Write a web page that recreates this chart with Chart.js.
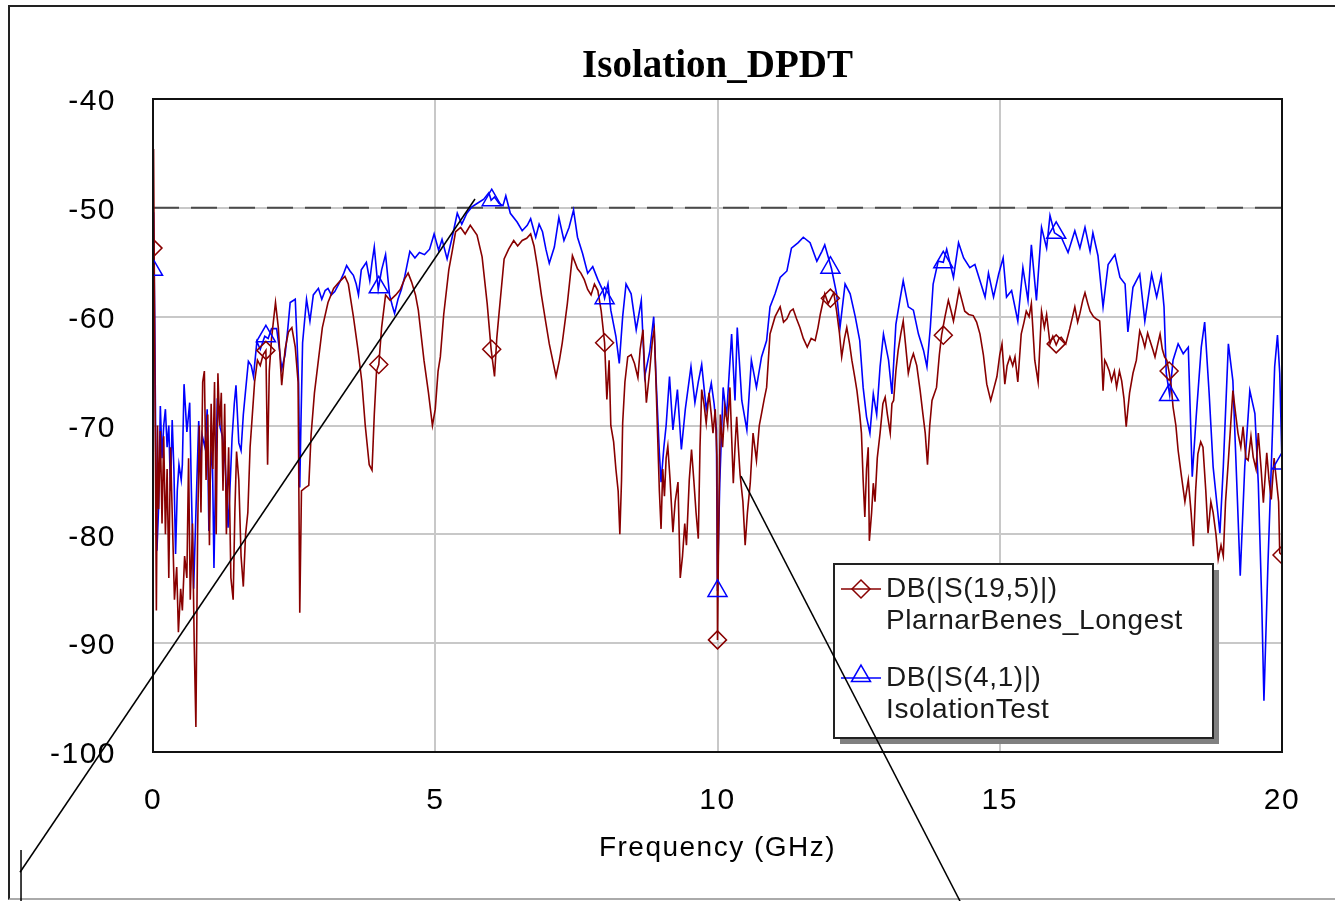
<!DOCTYPE html>
<html>
<head>
<meta charset="utf-8">
<title>Isolation_DPDT</title>
<script src="https://cdn.jsdelivr.net/npm/chart.js"></script>
<style>
  html, body { margin: 0; padding: 0; background: #fff; }
  #wrap { position: relative; width: 1335px; height: 901px; overflow: hidden; }
  #frame { position: absolute; left: 8px; top: 5px; width: 1400px; height: 895px; box-sizing: border-box;
           border-left: 2px solid #222; border-top: 2px solid #222; border-bottom: 2px solid #aaa; }
  #chart { position: absolute; left: 0; top: 0; }
</style>
</head>
<body>
<div id="wrap">
  <div id="frame"></div>
  <canvas id="chart" width="1335" height="901"></canvas>
</div>
<script>
// ---- data (frequency in GHz, level in dB) ----
const redFreq = [
  0, 0.01, 0.03, 0.06, 0.08, 0.1, 0.13, 0.16, 0.19, 0.22,
  0.25, 0.28, 0.31, 0.34, 0.38, 0.42, 0.45, 0.49, 0.52, 0.56,
  0.6, 0.63, 0.66, 0.7, 0.73, 0.76, 0.79, 0.82, 0.85, 0.88,
  0.91, 0.94, 0.97, 1.0, 1.03, 1.06, 1.09, 1.12, 1.15, 1.18,
  1.21, 1.24, 1.27, 1.3, 1.34, 1.38, 1.42, 1.45, 1.48, 1.52,
  1.56, 1.6, 1.64, 1.68, 1.72, 1.76, 1.8, 1.85, 1.9, 1.95,
  2.0, 2.03, 2.06, 2.1, 2.17, 2.22, 2.28, 2.34, 2.4, 2.46,
  2.52, 2.57, 2.6, 2.63, 2.7, 2.76, 2.8, 2.86, 2.93, 3.0,
  3.1, 3.2, 3.3, 3.4, 3.46, 3.55, 3.63, 3.7, 3.76, 3.83,
  3.88, 3.92, 3.96, 4.0, 4.05, 4.12, 4.2, 4.3, 4.38, 4.46,
  4.52, 4.58, 4.65, 4.7, 4.8, 4.88, 4.95, 5.0, 5.05, 5.09,
  5.15, 5.24, 5.3, 5.36, 5.45, 5.53, 5.62, 5.74, 5.83, 5.92,
  5.99, 6.05, 6.09, 6.13, 6.22, 6.3, 6.39, 6.46, 6.54, 6.62,
  6.69, 6.75, 6.81, 6.88, 6.96, 7.02, 7.08, 7.14, 7.2, 7.25,
  7.34, 7.43, 7.52, 7.58, 7.64, 7.7, 7.76, 7.82, 7.88, 7.94,
  8.0, 8.04, 8.08, 8.11, 8.16, 8.2, 8.24, 8.27, 8.3, 8.32,
  8.36, 8.41, 8.47, 8.53, 8.59, 8.63, 8.68, 8.71, 8.74, 8.8,
  8.85, 8.88, 8.91, 8.94, 8.97, 9.0, 9.03, 9.06, 9.09, 9.12,
  9.16, 9.21, 9.25, 9.3, 9.34, 9.38, 9.42, 9.45, 9.5, 9.54,
  9.58, 9.62, 9.66, 9.69, 9.72, 9.76, 9.8, 9.85, 9.89, 9.92,
  9.96, 9.99, 10.0, 10.02, 10.05, 10.09, 10.13, 10.18, 10.22, 10.25,
  10.28, 10.31, 10.34, 10.37, 10.4, 10.45, 10.49, 10.53, 10.58, 10.63,
  10.69, 10.74, 10.78, 10.83, 10.87, 10.93, 11.02, 11.07, 11.11, 11.17,
  11.23, 11.29, 11.34, 11.4, 11.46, 11.52, 11.59, 11.66, 11.73, 11.78,
  11.82, 11.9, 11.96, 12.01, 12.06, 12.11, 12.16, 12.2, 12.25, 12.29,
  12.34, 12.38, 12.43, 12.47, 12.52, 12.55, 12.58, 12.61, 12.64, 12.67,
  12.69, 12.73, 12.76, 12.79, 12.83, 12.88, 12.93, 12.97, 13.01, 13.06,
  13.09, 13.12, 13.16, 13.2, 13.25, 13.29, 13.33, 13.38, 13.43, 13.47,
  13.53, 13.59, 13.64, 13.68, 13.72, 13.76, 13.8, 13.88, 13.93, 13.97,
  14.03, 14.09, 14.14, 14.18, 14.23, 14.28, 14.33, 14.38, 14.45, 14.53,
  14.59, 14.65, 14.71, 14.77, 14.84, 14.9, 14.95, 15.0, 15.04, 15.09,
  15.13, 15.18, 15.23, 15.27, 15.32, 15.38, 15.43, 15.47, 15.52, 15.56,
  15.62, 15.68, 15.74, 15.79, 15.83, 15.89, 15.94, 16.0, 16.05, 16.09,
  16.17, 16.24, 16.29, 16.33, 16.38, 16.42, 16.47, 16.51, 16.56, 16.6,
  16.66, 16.71, 16.77, 16.8, 16.83, 16.86, 16.89, 16.94, 16.98, 17.03,
  17.07, 17.12, 17.16, 17.2, 17.24, 17.27, 17.3, 17.36, 17.42, 17.48,
  17.53, 17.57, 17.62, 17.66, 17.71, 17.75, 17.8, 17.84, 17.88, 17.92,
  17.96, 18.0, 18.04, 18.07, 18.12, 18.16, 18.22, 18.28, 18.34, 18.39,
  18.43, 18.47, 18.51, 18.56, 18.6, 18.65, 18.69, 18.74, 18.78, 18.83,
  18.87, 18.92, 18.96, 19.0, 19.05, 19.09, 19.13, 19.18, 19.22, 19.27,
  19.31, 19.36, 19.4, 19.45, 19.49, 19.54, 19.58, 19.63, 19.67, 19.73,
  19.77, 19.81, 19.86, 19.9, 19.94, 19.96, 20.0
];
const redDb = [
  -53.7, -44.6, -62, -87, -70, -77.7, -70.5, -79, -71, -80,
  -74, -84, -72, -78, -86, -83, -89, -85, -87, -82,
  -84, -73, -86, -79, -90, -97.7, -80, -70, -78, -66,
  -65, -75, -69, -81, -68, -74, -66, -80, -65.2, -70,
  -67, -76, -68, -80, -72, -84, -86, -78, -72.4, -75,
  -82, -84.8, -80, -78, -72, -69, -66, -64, -64.5, -63.5,
  -63.1, -73.6, -65, -62, -58.7, -61, -66.3, -63, -61.4, -61,
  -62.8, -66, -87.2, -76, -75.7, -75.5, -70.9, -67, -64, -61,
  -58.7, -57.4, -56.8, -56.3, -57, -60, -63, -66, -70, -73.6,
  -74.1, -69, -65, -64.4, -61, -58, -58.5, -58, -57.5, -56.5,
  -56, -56.8, -58, -59.4, -64, -67, -70, -68.5, -65, -63.7,
  -59.8, -55.7, -54, -52.2, -51.8, -52.4, -51.6, -52.5, -54.5, -58.8,
  -63, -65.5, -62, -59.7, -54.7, -53.8, -53, -53.5, -53, -52.8,
  -52.4, -53.5, -55.4, -58, -60.6, -62.5, -64, -65.5, -64, -62.4,
  -58.8, -54.4, -55.6, -56, -56.6, -57.5, -58, -57, -57.6, -59.5,
  -62.4, -67.6, -64, -70, -71.5, -74, -76, -80, -75, -69.8,
  -66, -63.7, -63.5, -64.3, -65.6, -63, -61.2, -65, -67.9, -64.9,
  -62, -61.2, -66, -71, -76, -79.5, -74, -76.5, -73, -71.9,
  -75, -79.8, -77, -75.2, -84, -82, -79, -81, -75, -72.2,
  -75, -78, -80.4, -72, -66.7, -68, -69.8, -67, -69, -70.7,
  -68.5, -73, -89.7, -80, -69, -72, -68.3, -70, -66.5, -71,
  -75.3, -72, -69.2, -72, -74.5, -77, -81, -78, -75.3, -70.7,
  -73.2, -70, -68.9, -67.5, -66.5, -61.6, -60, -59.5, -59.1, -60.5,
  -60.2, -59.5, -59.3, -60.2, -61, -62, -62.8, -62, -62.2, -61,
  -59.8, -57.9, -58.8, -58.3, -57.8, -59.5, -61.5, -63.7, -62, -61,
  -62.5, -64, -65.5, -66.8, -69, -70.7, -75, -78.4, -74, -72,
  -80.6, -78, -75.3, -77, -73, -70.7, -68, -67.4, -69, -70.7,
  -68, -67.7, -65, -63.1, -61.5, -60.4, -62.5, -65.2, -64, -63.4,
  -64.5, -66.8, -69, -70.7, -73.6, -70, -67.7, -66.5, -63.5, -61.7,
  -60, -58.5, -59.5, -60.4, -59, -57.5, -58.5, -59.5, -59.8, -59.9,
  -60.5, -61.6, -63.5, -66.2, -67.7, -66.5, -65.5, -63.5, -62.5, -66.2,
  -64.5, -63.7, -64.5, -63.7, -66, -61.6, -60.5, -59.5, -60, -58.8,
  -64, -66, -59.5, -61, -59.8, -62.5, -61.8, -62.6, -62, -61.9,
  -62.5, -61.1, -60, -59.1, -60.5, -59.7, -58.5, -57.8, -58.8, -59.5,
  -60, -60.2, -60.4, -63, -66.8, -64, -64.3, -65, -65.9, -65,
  -66.5, -65, -65.9, -67.5, -70.1, -68.5, -67, -65.2, -64, -61.3,
  -62, -62.8, -61.5, -62.2, -63, -63.7, -62.5, -61.6, -63, -63.7,
  -64, -65.1, -66.5, -68.3, -70, -72.3, -74.7, -77, -75, -78,
  -81.1, -76, -72.6, -71.5, -72, -76, -79.9, -77, -78, -80,
  -82.3, -81, -82, -77, -73.2, -70, -66.8, -69, -70.7, -72,
  -70.1, -73, -73.2, -71, -72.9, -74, -70.7, -74, -77.1, -72.5,
  -75, -76.8, -73, -75, -77, -81.7, -81.9
];

const blueFreq = [
  0, 0.01, 0.03, 0.05, 0.07, 0.1, 0.13, 0.16, 0.19, 0.22,
  0.25, 0.28, 0.31, 0.34, 0.37, 0.4, 0.43, 0.46, 0.5, 0.52,
  0.55, 0.6, 0.65, 0.68, 0.72, 0.76, 0.81, 0.84, 0.87, 0.92,
  0.96, 0.99, 1.02, 1.05, 1.08, 1.11, 1.14, 1.19, 1.23, 1.28,
  1.33, 1.37, 1.4, 1.44, 1.47, 1.52, 1.56, 1.6, 1.64, 1.69,
  1.74, 1.78, 1.84, 1.9, 1.98, 2.04, 2.1, 2.19, 2.24, 2.28,
  2.34, 2.39, 2.43, 2.52, 2.55, 2.58, 2.6, 2.62, 2.65, 2.72,
  2.78, 2.84, 2.93, 2.99, 3.05, 3.1, 3.16, 3.22, 3.31, 3.38,
  3.43, 3.49, 3.55, 3.6, 3.64, 3.69, 3.78, 3.84, 3.88, 3.92,
  3.99, 4.05, 4.12, 4.19, 4.24, 4.28, 4.34, 4.4, 4.46, 4.55,
  4.64, 4.72, 4.81, 4.9, 4.98, 5.06, 5.12, 5.21, 5.3, 5.39,
  5.47, 5.56, 5.65, 5.74, 5.86, 5.95, 5.99, 6.05, 6.13, 6.2,
  6.25, 6.33, 6.45, 6.54, 6.63, 6.69, 6.78, 6.84, 6.9, 6.96,
  7.02, 7.11, 7.19, 7.28, 7.37, 7.45, 7.52, 7.61, 7.7, 7.79,
  7.88, 7.97, 8.0, 8.06, 8.11, 8.2, 8.26, 8.32, 8.38, 8.47,
  8.56, 8.65, 8.71, 8.8, 8.87, 8.91, 8.97, 9.0, 9.05, 9.09,
  9.15, 9.21, 9.29, 9.36, 9.43, 9.53, 9.6, 9.66, 9.72, 9.8,
  9.89, 9.94, 9.98, 10.0, 10.02, 10.04, 10.1, 10.16, 10.25, 10.31,
  10.35, 10.43, 10.52, 10.6, 10.69, 10.78, 10.87, 10.93, 11.02, 11.11,
  11.23, 11.31, 11.43, 11.52, 11.64, 11.76, 11.85, 11.9, 11.96, 12.02,
  12.11, 12.17, 12.26, 12.35, 12.44, 12.52, 12.58, 12.64, 12.7, 12.76,
  12.82, 12.88, 12.94, 13.03, 13.09, 13.16, 13.23, 13.29, 13.38, 13.47,
  13.56, 13.65, 13.71, 13.77, 13.82, 13.91, 14.0, 14.06, 14.18, 14.27,
  14.36, 14.47, 14.56, 14.65, 14.74, 14.8, 14.89, 14.98, 15.06, 15.12,
  15.21, 15.32, 15.41, 15.5, 15.56, 15.65, 15.74, 15.83, 15.89, 15.97,
  16.09, 16.21, 16.33, 16.42, 16.51, 16.6, 16.65, 16.74, 16.83, 16.92,
  17.04, 17.13, 17.22, 17.27, 17.36, 17.48, 17.57, 17.69, 17.78, 17.86,
  17.91, 17.95, 18.01, 18.07, 18.16, 18.25, 18.34, 18.41, 18.48, 18.57,
  18.63, 18.71, 18.78, 18.9, 18.96, 19.05, 19.13, 19.21, 19.26, 19.34,
  19.43, 19.52, 19.58, 19.64, 19.68, 19.75, 19.81, 19.87, 19.92, 19.96,
  20.0
];
const blueDb = [
  -55.7, -50.4, -60, -73, -81.5, -77.4, -68.2, -73, -70, -68.5,
  -72, -70, -76, -69.5, -74, -81.8, -76, -73.6, -75, -73.6,
  -66.2, -70.6, -67.9, -76, -85, -78, -69.6, -74, -70.9, -72,
  -68.5, -79.7, -74, -72, -83.1, -74, -67.5, -70.2, -71, -73.6,
  -79.4, -75, -71.2, -68, -66.3, -71.6, -72.3, -69, -66.8, -64.1,
  -64.5, -65.5, -62.3, -63, -61.8, -62, -61.1, -61.1, -63, -64.8,
  -63.5, -61, -58.7, -58.4, -62, -66.2, -75.7, -70, -62.4, -58.4,
  -60.4, -58, -57.4, -58.4, -57.6, -57.4, -58, -57.7, -56.8, -56,
  -55.3, -55.8, -56.2, -57, -58, -55.7, -55, -56.7, -55, -53.6,
  -57.5, -55.7, -54.3, -58, -59, -59.7, -58.4, -57.5, -56.3, -54,
  -54.6, -54.1, -54.3, -53.8, -52.4, -53.9, -52.9, -54.7, -52.7, -50.5,
  -51.5, -50.5, -49.9, -49.6, -49.2, -48.6, -49.3, -49, -49.6, -49.8,
  -48.9, -50.5, -51.3, -52.1, -51.6, -51, -52.7, -51.5, -52.2, -53.8,
  -55.1, -53.6, -50.9, -53, -51.8, -50.2, -52.7, -54.2, -56, -55.4,
  -56.6, -57.6, -58.3, -57, -59.4, -61.8, -64.3, -60, -57, -57.9,
  -61.2, -58.5, -65.5, -63.2, -60, -65.5, -72.5, -75.2, -72, -70,
  -65.5, -70.4, -66.7, -72.2, -68.5, -64.6, -67.9, -66, -64.4, -68.5,
  -66.1, -68, -70.4, -85.2, -80, -75.3, -66.5, -69.2, -61.6, -67.7,
  -61, -67.7, -70.4, -64, -66.5, -63.7, -62.2, -59.1, -57.9, -56.4,
  -55.8, -53.7, -53.2, -52.7, -53.2, -54.9, -54, -53.4, -54.5, -55.6,
  -57.9, -61, -57, -57.9, -60, -62.2, -66.5, -69.2, -70.7, -67.1,
  -69, -64.6, -61.6, -64, -67.1, -60.7, -58.5, -56.7, -59.1, -59.4,
  -61.6, -63.1, -64.6, -61, -57, -54.9, -55, -53.8, -56.4, -53.2,
  -54.6, -55.5, -55.2, -56.7, -58.2, -56, -58.2, -56.1, -54.6, -58.2,
  -57.6, -60.4, -55.5, -58.5, -53.4, -58.5, -51.8, -53.7, -50.7, -52.3,
  -52.7, -54.1, -52.1, -53.7, -51.8, -54, -52.3, -54.4, -59.1, -55.2,
  -54.3, -56.4, -57, -61.4, -57.3, -56.1, -60.4, -56.1, -58.2, -56.3,
  -59.1, -65.2, -67.2, -64, -62.5, -63.4, -62.8, -74.7, -69.2, -62.8,
  -60.5, -67.1, -73.8, -79.9, -73.8, -62.5, -65.9, -76.8, -83.8, -73.8,
  -66.8, -68.9, -75.3, -86, -95.3, -82.9, -73.8, -64.6, -61.7, -65.2,
  -73.5
];

// marker symbols sit every 2 GHz on each trace
const markerFreq = [0, 2, 4, 6, 8, 10, 12, 14, 16, 18, 20];
const redMarkerDb = [-53.7, -63.1, -64.4, -63, -62.4, -89.7, -58.3, -61.7, -62.5, -65, -81.9];
const blueMarkerDb = [-55.7, -61.8, -57.3, -49.3, -58.3, -85.2, -55.5, -55, -52.3, -67.2, -73.5];

const limitDb = -50;
const xTicks = { min: 0, max: 20, step: 5 };
const yTicks = { min: -100, max: -40, step: 10 };

const redLabel = ['DB(|S(19,5)|)', 'PlarnarBenes_Longest'];
const blueLabel = ['DB(|S(4,1)|)', 'IsolationTest'];

// stray annotation strokes on the screenshot, in axis units
const annotLines = [
  [[-2.356, -111.05], [5.704, -49.19]],
  [[10.416, -74.65], [14.296, -113.7]],
  [[-2.338, -109.0], [-2.338, -113.7]]
];

const RED = '#880000';
const BLUE = '#0000ff';
const SANS = '"Liberation Sans", Arial, sans-serif';

function toPoints(xs, ys) {
  return xs.map((x, i) => ({ x: x, y: ys[i] }));
}

function diamond(ctx, x, y, r) {
  ctx.beginPath();
  ctx.moveTo(x - r, y); ctx.lineTo(x, y - r); ctx.lineTo(x + r, y); ctx.lineTo(x, y + r);
  ctx.closePath(); ctx.stroke();
}
function triangle(ctx, x, y, r) {
  ctx.beginPath();
  ctx.moveTo(x, y - r);
  ctx.lineTo(x + r * 0.866, y + r * 0.5);
  ctx.lineTo(x - r * 0.866, y + r * 0.5);
  ctx.closePath(); ctx.stroke();
}

const overlay = {
  id: 'overlay',
  beforeDraw(chart) {
    chart.ctx.letterSpacing = '1.5px';
  },
  beforeDatasetsDraw(chart) {
    const { ctx, chartArea: a } = chart;
    const py = chart.scales.y.getPixelForValue(limitDb);
    ctx.save();
    ctx.strokeStyle = '#4a4a4a';
    ctx.lineWidth = 2;
    ctx.setLineDash([26, 12]);
    ctx.beginPath();
    ctx.moveTo(a.left, py);
    ctx.lineTo(a.right, py);
    ctx.stroke();
    ctx.restore();
  },
  afterDatasetsDraw(chart) {
    const { ctx, chartArea: a } = chart;
    ctx.save();
    // plot box
    ctx.strokeStyle = '#111';
    ctx.lineWidth = 2;
    ctx.strokeRect(a.left, a.top, a.right - a.left, a.bottom - a.top);

    // legend box with drop shadow
    const w = 379, h = 174;
    const lx = a.right - 448, ly = a.bottom - 188;
    ctx.fillStyle = '#808080';
    ctx.fillRect(lx + 6, ly + 6, w, h);
    ctx.fillStyle = '#fff';
    ctx.fillRect(lx, ly, w, h);
    ctx.strokeStyle = '#222';
    ctx.lineWidth = 2;
    ctx.strokeRect(lx, ly, w, h);

    const entries = [
      { color: RED, label: redLabel, mark: 'diamond' },
      { color: BLUE, label: blueLabel, mark: 'triangle' }
    ];
    ctx.letterSpacing = '0.6px';
    ctx.font = '28px ' + SANS;
    ctx.textBaseline = 'middle';
    ctx.textAlign = 'left';
    entries.forEach((e, i) => {
      const cy = ly + 25 + i * 89;
      ctx.strokeStyle = e.color;
      ctx.lineWidth = 1.5;
      ctx.beginPath();
      ctx.moveTo(lx + 7, cy);
      ctx.lineTo(lx + 47, cy);
      ctx.stroke();
      if (e.mark === 'diamond') diamond(ctx, lx + 27, cy, 9);
      else triangle(ctx, lx + 27, cy - 2, 11);
      ctx.fillStyle = '#1a1a1a';
      ctx.fillText(e.label[0], lx + 52, cy);
      ctx.fillText(e.label[1], lx + 52, cy + 32);
    });
    ctx.restore();
  },
  afterDraw(chart) {
    const { ctx, chartArea: a, scales: { x, y } } = chart;
    ctx.save();
    // chart title
    ctx.letterSpacing = '0px';
    ctx.font = 'bold 39px "Liberation Serif", "Times New Roman", serif';
    ctx.fillStyle = '#000';
    ctx.textAlign = 'center';
    ctx.textBaseline = 'middle';
    ctx.fillText('Isolation_DPDT', (a.left + a.right) / 2, 67);

    // annotation strokes
    ctx.strokeStyle = '#000';
    ctx.lineWidth = 1.5;
    annotLines.forEach(([p, q]) => {
      ctx.beginPath();
      ctx.moveTo(x.getPixelForValue(p[0]), y.getPixelForValue(p[1]));
      ctx.lineTo(x.getPixelForValue(q[0]), y.getPixelForValue(q[1]));
      ctx.stroke();
    });
    ctx.restore();
  }
};

const tickFont = { family: SANS, size: 30 };

new Chart(document.getElementById('chart'), {
  type: 'line',
  data: {
    datasets: [
      {
        label: 'red markers',
        data: toPoints(markerFreq, redMarkerDb),
        showLine: false,
        pointStyle: 'rectRot',
        pointRadius: 9,
        pointBorderWidth: 1.5,
        pointBorderColor: RED,
        pointBackgroundColor: 'rgba(0,0,0,0)'
      },
      {
        label: 'blue markers',
        data: toPoints(markerFreq, blueMarkerDb),
        showLine: false,
        pointStyle: 'triangle',
        pointRadius: 11,
        pointBorderWidth: 1.5,
        pointBorderColor: BLUE,
        pointBackgroundColor: 'rgba(0,0,0,0)'
      },
      {
        label: redLabel.join(' '),
        data: toPoints(redFreq, redDb),
        borderColor: RED,
        borderWidth: 1.6,
        pointRadius: 0,
        tension: 0,
        fill: false
      },
      {
        label: blueLabel.join(' '),
        data: toPoints(blueFreq, blueDb),
        borderColor: BLUE,
        borderWidth: 1.6,
        pointRadius: 0,
        tension: 0,
        fill: false
      }
    ]
  },
  options: {
    responsive: false,
    animation: false,
    events: [],
    layout: { padding: { top: 99, right: 53, bottom: 0, left: 0 } },
    plugins: {
      legend: { display: false },
      tooltip: { enabled: false },
      title: { display: false }
    },
    scales: {
      x: {
        type: 'linear',
        min: xTicks.min,
        max: xTicks.max,
        ticks: { stepSize: xTicks.step, padding: 31, color: '#000', font: tickFont },
        grid: { color: '#c8c8c8', lineWidth: 2, drawTicks: false },
        border: { color: '#111', width: 2 },
        title: {
          display: true,
          text: 'Frequency (GHz)',
          color: '#000',
          font: { family: SANS, size: 28 },
          padding: { top: 0, bottom: 36 }
        },
        afterFit(scale) { scale.height = 149; }
      },
      y: {
        min: yTicks.min,
        max: yTicks.max,
        ticks: { stepSize: yTicks.step, padding: 37, labelOffset: 3, color: '#000', font: tickFont },
        grid: { color: '#c8c8c8', lineWidth: 2, drawTicks: false },
        border: { color: '#111', width: 2 },
        afterFit(scale) { scale.width = 153; }
      }
    }
  },
  plugins: [overlay]
});
</script>
</body>
</html>
